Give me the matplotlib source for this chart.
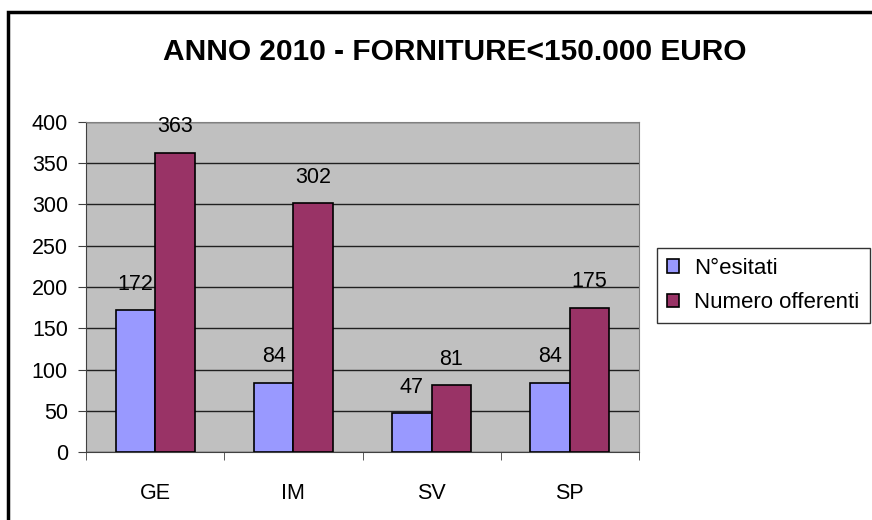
import matplotlib.pyplot as plt
import matplotlib.patches as mpatches
import numpy as np

# dati
categorie = ["GE", "IM", "SV", "SP"]
esitati = [172, 84, 47, 84]
offerenti = [363, 302, 81, 175]
serie_nomi = ["N°esitati", "Numero offerenti"]
titolo = "ANNO 2010 - FORNITURE<150.000 EURO"

plt.rcParams['font.family'] = ['Liberation Sans', 'DejaVu Sans']
FS = 15.5

fig = plt.figure(figsize=(8.72, 5.2), dpi=100)
ax = fig.add_axes([86 / 872, 68 / 520, 553 / 872, 330 / 520])
ax.set_facecolor('#C0C0C0')

x = np.arange(len(categorie))
w = 0.285
b1 = ax.bar(x - w / 2, esitati, w, color='#9999FF', edgecolor='black', linewidth=1.2,
            label=serie_nomi[0], zorder=3)
b2 = ax.bar(x + w / 2, offerenti, w, color='#993366', edgecolor='black', linewidth=1.2,
            label=serie_nomi[1], zorder=3)

for bars in (b1, b2):
    for r in bars:
        ax.annotate(str(int(r.get_height())), (r.get_x() + r.get_width() / 2, r.get_height()),
                    xytext=(0, 11), textcoords='offset points',
                    ha='center', va='bottom', fontsize=FS, zorder=4)

ax.set_xlim(-0.5, len(categorie) - 0.5)
ax.set_ylim(0, 400)
ax.set_yticks(range(0, 401, 50))
ax.yaxis.grid(True, color='#202020', linewidth=1)
ax.set_axisbelow(True)

ax.set_xticks(x)
ax.set_xticklabels(categorie)
ax.set_xticks(np.arange(-0.5, len(categorie)), minor=True)
ax.tick_params(axis='x', which='major', length=0, pad=22, labelsize=FS)
ax.tick_params(axis='x', which='minor', length=6, direction='out', color='#404040')
ax.tick_params(axis='y', length=6, direction='out', color='#404040', labelsize=FS, pad=7)

for s in ['top', 'right']:
    ax.spines[s].set_color('#808080')
for s in ['left', 'bottom']:
    ax.spines[s].set_color('#404040')

fig.text(455 / 872, 1 - 52 / 520, titolo, ha='center', va='center',
         fontsize=21.5, fontweight='bold')

leg = fig.legend(handles=[b1, b2], loc='upper left',
                 bbox_to_anchor=(657 / 872, 1 - 248 / 520), fontsize=16,
                 frameon=True, fancybox=False, edgecolor='black', handlelength=0.55,
                 handleheight=0.55, handletextpad=0.68, borderpad=0.45, labelspacing=0.6,
                 borderaxespad=0)
leg.get_frame().set_linewidth(1)

# cornice esterna
fig.patches.append(mpatches.Rectangle((8 / 872, -0.1), 1.1, 1 - 12 / 520 + 0.1,
                                      transform=fig.transFigure, fill=False,
                                      edgecolor='black', linewidth=2.5))

fig.savefig("out.png", dpi=100)
